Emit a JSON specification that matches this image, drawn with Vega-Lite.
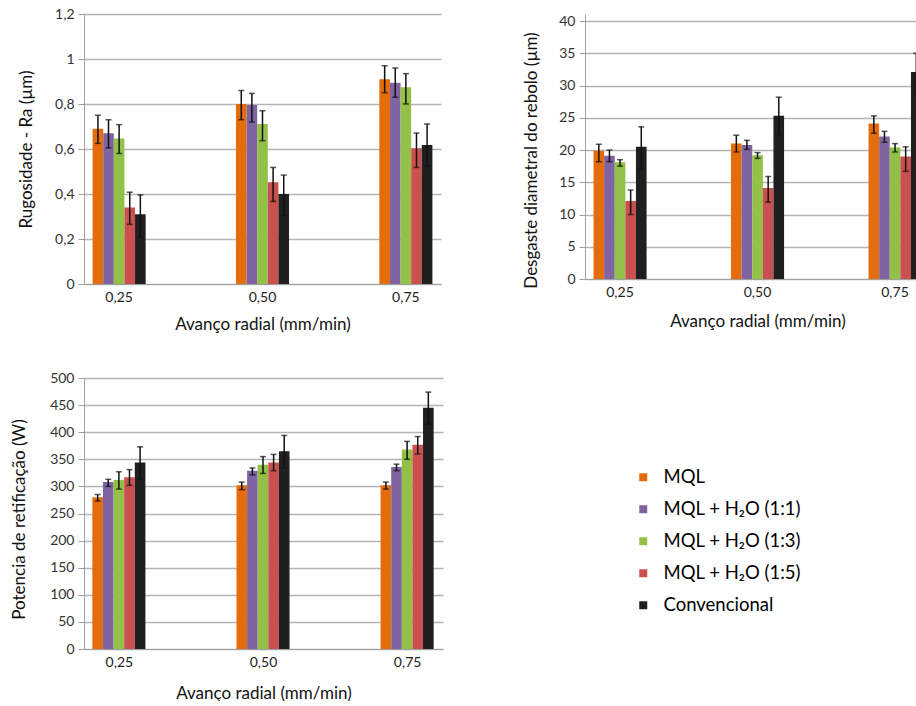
{
  "$schema": "https://vega.github.io/schema/vega-lite/v6.json",
  "background": "white",
  "padding": {"left": 9, "top": 7, "right": 0, "bottom": 0},
  "autosize": {"type": "pad"},
  "bounds": "flush",
  "columns": 2,
  "spacing": {"row": 94, "column": 142},
  "config": {
    "view": {"stroke": null},
    "font": "Lato",
    "axisY": {"domainColor": "#a0a0a0", "tickColor": "#a0a0a0", "gridColor": "#b4b4b4", "gridWidth": 1.4, "tickSize": 6, "labelFontSize": 14, "labelColor": "#333", "labelPadding": 4, "labelOverlap": false, "titleFontSize": 17, "titleFontWeight": "normal", "titleColor": "#111"},
    "axisX": {"domainColor": "#a0a0a0", "ticks": false, "grid": false, "labelAngle": 0, "labelFontSize": 14, "labelColor": "#222", "labelPadding": 6, "titleFontSize": 17, "titleFontWeight": "normal", "titleColor": "#111"}
  },
  "resolve": {"scale": {"color": "shared"}, "legend": {"color": "shared"}},
  "datasets": {
    "rug": [
      {"avanco": "0,25", "serie": "MQL", "v": 0.69, "lo": 0.625, "hi": 0.75},
      {"avanco": "0,25", "serie": "MQL + H₂O (1:1)", "v": 0.67, "lo": 0.605, "hi": 0.73},
      {"avanco": "0,25", "serie": "MQL + H₂O (1:3)", "v": 0.647, "lo": 0.58, "hi": 0.708},
      {"avanco": "0,25", "serie": "MQL + H₂O (1:5)", "v": 0.34, "lo": 0.265, "hi": 0.408},
      {"avanco": "0,25", "serie": "Convencional", "v": 0.31, "lo": 0.207, "hi": 0.396},
      {"avanco": "0,50", "serie": "MQL", "v": 0.80, "lo": 0.73, "hi": 0.86},
      {"avanco": "0,50", "serie": "MQL + H₂O (1:1)", "v": 0.796, "lo": 0.72, "hi": 0.847},
      {"avanco": "0,50", "serie": "MQL + H₂O (1:3)", "v": 0.711, "lo": 0.637, "hi": 0.77},
      {"avanco": "0,50", "serie": "MQL + H₂O (1:5)", "v": 0.452, "lo": 0.367, "hi": 0.518},
      {"avanco": "0,50", "serie": "Convencional", "v": 0.40, "lo": 0.304, "hi": 0.484},
      {"avanco": "0,75", "serie": "MQL", "v": 0.91, "lo": 0.85, "hi": 0.97},
      {"avanco": "0,75", "serie": "MQL + H₂O (1:1)", "v": 0.895, "lo": 0.83, "hi": 0.96},
      {"avanco": "0,75", "serie": "MQL + H₂O (1:3)", "v": 0.874, "lo": 0.80, "hi": 0.935},
      {"avanco": "0,75", "serie": "MQL + H₂O (1:5)", "v": 0.603, "lo": 0.518, "hi": 0.671},
      {"avanco": "0,75", "serie": "Convencional", "v": 0.618, "lo": 0.523, "hi": 0.711}
    ],
    "desg": [
      {"avanco": "0,25", "serie": "MQL", "v": 19.9, "lo": 18.2, "hi": 20.9},
      {"avanco": "0,25", "serie": "MQL + H₂O (1:1)", "v": 19.1, "lo": 18.2, "hi": 20.0},
      {"avanco": "0,25", "serie": "MQL + H₂O (1:3)", "v": 18.1, "lo": 17.5, "hi": 18.5},
      {"avanco": "0,25", "serie": "MQL + H₂O (1:5)", "v": 12.1, "lo": 10.0, "hi": 13.8},
      {"avanco": "0,25", "serie": "Convencional", "v": 20.5, "lo": 17.0, "hi": 23.6},
      {"avanco": "0,50", "serie": "MQL", "v": 21.0, "lo": 19.7, "hi": 22.3},
      {"avanco": "0,50", "serie": "MQL + H₂O (1:1)", "v": 20.8, "lo": 20.1, "hi": 21.5},
      {"avanco": "0,50", "serie": "MQL + H₂O (1:3)", "v": 19.2, "lo": 18.7, "hi": 19.6},
      {"avanco": "0,50", "serie": "MQL + H₂O (1:5)", "v": 14.1, "lo": 11.9, "hi": 15.9},
      {"avanco": "0,50", "serie": "Convencional", "v": 25.3, "lo": 22.4, "hi": 28.2},
      {"avanco": "0,75", "serie": "MQL", "v": 24.1, "lo": 22.6, "hi": 25.3},
      {"avanco": "0,75", "serie": "MQL + H₂O (1:1)", "v": 22.1, "lo": 21.2, "hi": 22.9},
      {"avanco": "0,75", "serie": "MQL + H₂O (1:3)", "v": 20.4, "lo": 19.7, "hi": 21.0},
      {"avanco": "0,75", "serie": "MQL + H₂O (1:5)", "v": 19.0, "lo": 16.7, "hi": 20.5},
      {"avanco": "0,75", "serie": "Convencional", "v": 32.1, "lo": 29.2, "hi": 35.0}
    ],
    "pot": [
      {"avanco": "0,25", "serie": "MQL", "v": 280, "lo": 273, "hi": 285},
      {"avanco": "0,25", "serie": "MQL + H₂O (1:1)", "v": 308, "lo": 300, "hi": 313},
      {"avanco": "0,25", "serie": "MQL + H₂O (1:3)", "v": 312, "lo": 295, "hi": 327},
      {"avanco": "0,25", "serie": "MQL + H₂O (1:5)", "v": 317, "lo": 302, "hi": 331},
      {"avanco": "0,25", "serie": "Convencional", "v": 344, "lo": 314, "hi": 373},
      {"avanco": "0,50", "serie": "MQL", "v": 302, "lo": 294, "hi": 308},
      {"avanco": "0,50", "serie": "MQL + H₂O (1:1)", "v": 329, "lo": 321, "hi": 334},
      {"avanco": "0,50", "serie": "MQL + H₂O (1:3)", "v": 340, "lo": 324, "hi": 355},
      {"avanco": "0,50", "serie": "MQL + H₂O (1:5)", "v": 344, "lo": 329, "hi": 359},
      {"avanco": "0,50", "serie": "Convencional", "v": 365, "lo": 334, "hi": 394},
      {"avanco": "0,75", "serie": "MQL", "v": 302, "lo": 295, "hi": 308},
      {"avanco": "0,75", "serie": "MQL + H₂O (1:1)", "v": 336, "lo": 329, "hi": 341},
      {"avanco": "0,75", "serie": "MQL + H₂O (1:3)", "v": 368, "lo": 350, "hi": 383},
      {"avanco": "0,75", "serie": "MQL + H₂O (1:5)", "v": 377, "lo": 360, "hi": 392},
      {"avanco": "0,75", "serie": "Convencional", "v": 445, "lo": 415, "hi": 474}
    ]
  },
  "concat": [
    {
      "width": 357,
      "height": 270,
      "data": {"name": "rug"},
      "encoding": {
        "x": {"field": "avanco", "type": "nominal", "scale": {"paddingInner": 0.63, "paddingOuter": 0.06}, "axis": {"title": "Avanço radial (mm/min)", "titleY": 40, "titleBaseline": "middle"}},
        "xOffset": {"field": "serie", "type": "nominal", "sort": ["MQL", "MQL + H₂O (1:1)", "MQL + H₂O (1:3)", "MQL + H₂O (1:5)", "Convencional"], "scale": {"paddingInner": 0, "paddingOuter": 0}}
      },
      "layer": [
        {"mark": {"type": "bar"}, "encoding": {
          "y": {"field": "v", "type": "quantitative", "title": "Rugosidade - Ra (µm)", "scale": {"domain": [0, 1.2], "nice": false}, "axis": {"values": [0, 0.2, 0.4, 0.6, 0.8, 1, 1.2], "labelExpr": "replace(toString(datum.value), '.', ',')", "titleX": -49}},
          "color": {"field": "serie", "type": "nominal", "scale": {"domain": ["MQL", "MQL + H₂O (1:1)", "MQL + H₂O (1:3)", "MQL + H₂O (1:5)", "Convencional"], "range": ["#E46C0A", "#8064A2", "#93C047", "#C9504F", "#1F1F1F"]},
            "legend": {"orient": "none", "legendX": 550, "legendY": 454, "title": null, "symbolType": "square", "symbolSize": 64, "symbolStrokeWidth": 0, "labelFontSize": 18.5, "labelColor": "#000", "rowPadding": 13, "labelOffset": 11, "labelFont": "Lato"}}}},
        {"mark": {"type": "rule", "color": "#111", "strokeWidth": 1.5}, "encoding": {"y": {"field": "lo", "type": "quantitative", "title": "Rugosidade - Ra (µm)", "axis": {"values": [0, 0.2, 0.4, 0.6, 0.8, 1, 1.2], "labelExpr": "replace(toString(datum.value), '.', ',')", "titleX": -49}}, "y2": {"field": "hi"}}},
        {"mark": {"type": "tick", "color": "#111", "thickness": 1.5, "size": 6}, "encoding": {"y": {"field": "lo", "type": "quantitative", "title": "Rugosidade - Ra (µm)", "axis": {"values": [0, 0.2, 0.4, 0.6, 0.8, 1, 1.2], "labelExpr": "replace(toString(datum.value), '.', ',')", "titleX": -49}}}},
        {"mark": {"type": "tick", "color": "#111", "thickness": 1.5, "size": 6}, "encoding": {"y": {"field": "hi", "type": "quantitative", "title": "Rugosidade - Ra (µm)", "axis": {"values": [0, 0.2, 0.4, 0.6, 0.8, 1, 1.2], "labelExpr": "replace(toString(datum.value), '.', ',')", "titleX": -49}}}}
      ]
    },
    {
      "width": 333,
      "height": 265,
      "data": {"name": "desg"},
      "encoding": {
        "x": {"field": "avanco", "type": "nominal", "scale": {"paddingInner": 0.615, "paddingOuter": 0.062, "range": [0, 345]}, "axis": {"title": "Avanço radial (mm/min)", "titleY": 42, "titleBaseline": "middle"}},
        "xOffset": {"field": "serie", "type": "nominal", "sort": ["MQL", "MQL + H₂O (1:1)", "MQL + H₂O (1:3)", "MQL + H₂O (1:5)", "Convencional"], "scale": {"paddingInner": 0, "paddingOuter": 0}}
      },
      "layer": [
        {"mark": {"type": "bar", "clip": true}, "encoding": {
          "y": {"field": "v", "type": "quantitative", "title": "Desgaste diametral do rebolo (µm)", "scale": {"domain": [0, 41.1], "nice": false}, "axis": {"values": [0, 5, 10, 15, 20, 25, 30, 35, 40], "titleX": -45, "titleY": 146}},
          "color": {"field": "serie", "type": "nominal"}}},
        {"mark": {"type": "rule", "color": "#111", "strokeWidth": 1.5, "clip": true}, "encoding": {"y": {"field": "lo", "type": "quantitative", "title": "Desgaste diametral do rebolo (µm)", "axis": {"values": [0, 5, 10, 15, 20, 25, 30, 35, 40], "titleX": -45, "titleY": 146}}, "y2": {"field": "hi"}}},
        {"mark": {"type": "tick", "color": "#111", "thickness": 1.5, "size": 6, "clip": true}, "encoding": {"y": {"field": "lo", "type": "quantitative", "title": "Desgaste diametral do rebolo (µm)", "axis": {"values": [0, 5, 10, 15, 20, 25, 30, 35, 40], "titleX": -45, "titleY": 146}}}},
        {"mark": {"type": "tick", "color": "#111", "thickness": 1.5, "size": 6, "clip": true}, "encoding": {"y": {"field": "hi", "type": "quantitative", "title": "Desgaste diametral do rebolo (µm)", "axis": {"values": [0, 5, 10, 15, 20, 25, 30, 35, 40], "titleX": -45, "titleY": 146}}}}
      ]
    },
    {
      "width": 359,
      "height": 271,
      "data": {"name": "pot"},
      "encoding": {
        "x": {"field": "avanco", "type": "nominal", "scale": {"paddingInner": 0.625, "paddingOuter": 0.058}, "axis": {"title": "Avanço radial (mm/min)", "titleY": 44, "titleBaseline": "middle"}},
        "xOffset": {"field": "serie", "type": "nominal", "sort": ["MQL", "MQL + H₂O (1:1)", "MQL + H₂O (1:3)", "MQL + H₂O (1:5)", "Convencional"], "scale": {"paddingInner": 0, "paddingOuter": 0}}
      },
      "layer": [
        {"mark": {"type": "bar"}, "encoding": {
          "y": {"field": "v", "type": "quantitative", "title": "Potencia de retificação (W)", "scale": {"domain": [0, 500], "nice": false}, "axis": {"values": [0, 50, 100, 150, 200, 250, 300, 350, 400, 450, 500], "titleX": -56, "titleY": 141}},
          "color": {"field": "serie", "type": "nominal"}}},
        {"mark": {"type": "rule", "color": "#111", "strokeWidth": 1.5}, "encoding": {"y": {"field": "lo", "type": "quantitative", "title": "Potencia de retificação (W)", "axis": {"values": [0, 50, 100, 150, 200, 250, 300, 350, 400, 450, 500], "titleX": -56, "titleY": 141}}, "y2": {"field": "hi"}}},
        {"mark": {"type": "tick", "color": "#111", "thickness": 1.5, "size": 6}, "encoding": {"y": {"field": "lo", "type": "quantitative", "title": "Potencia de retificação (W)", "axis": {"values": [0, 50, 100, 150, 200, 250, 300, 350, 400, 450, 500], "titleX": -56, "titleY": 141}}}},
        {"mark": {"type": "tick", "color": "#111", "thickness": 1.5, "size": 6}, "encoding": {"y": {"field": "hi", "type": "quantitative", "title": "Potencia de retificação (W)", "axis": {"values": [0, 50, 100, 150, 200, 250, 300, 350, 400, 450, 500], "titleX": -56, "titleY": 141}}}}
      ]
    }
  ]
}
